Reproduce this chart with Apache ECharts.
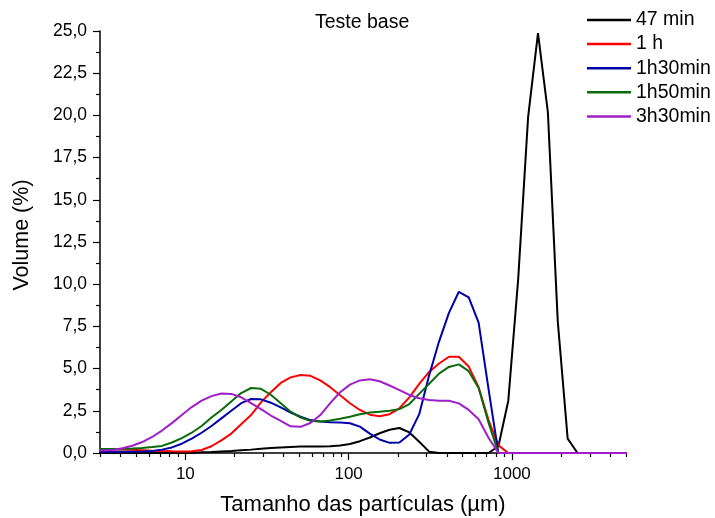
<!DOCTYPE html>
<html>
<head>
<meta charset="utf-8">
<script src="https://cdn.jsdelivr.net/npm/echarts@6/dist/echarts.min.js"></script>
<style>html,body{margin:0;padding:0;background:#fff}#c{width:715px;height:518px}</style>
</head>
<body>
<div id="c"></div>
<script>
// Particle size classes (µm)
const sizes = [2.71, 3.11, 3.58, 4.12, 4.73, 5.44, 6.26, 7.19, 8.27, 9.51,
  10.94, 12.58, 14.45, 16.62, 19.11, 21.97, 25.26, 29.04, 33.39, 38.39,
  44.14, 50.75, 58.34, 67.08, 77.12, 88.67, 101.9, 117.2, 134.8, 154.9,
  178.1, 204.8, 235.5, 270.7, 311.3, 357.9, 411.5, 473.2, 544.0, 625.5,
  719.2, 826.8, 950.6, 1093, 1257, 1445, 1661, 1910, 2196, 2525,
  2903, 3337, 3837, 4411, 5071];

const seriesNames = ['47 min', '1 h', '1h30min', '1h50min', '3h30min'];

const v47min = [0, 0, 0, 0, 0, 0, 0, 0, 0, 0.01,
  0.02, 0.04, 0.06, 0.09, 0.12, 0.16, 0.20, 0.25, 0.29, 0.33,
  0.36, 0.38, 0.39, 0.39, 0.40, 0.44, 0.53, 0.70, 0.92, 1.17,
  1.38, 1.48, 1.22, 0.67, 0.08, 0, 0, 0, 0, 0,
  0, 0.4, 3.1, 10.3, 19.9, 24.87, 20.2, 7.8, 0.85, 0,
  0, 0, 0, 0, 0];

const v1h = [0.22, 0.22, 0.21, 0.20, 0.19, 0.17, 0.14, 0.12, 0.10, 0.09,
  0.10, 0.18, 0.40, 0.75, 1.15, 1.70, 2.25, 3.00, 3.60, 4.15,
  4.48, 4.62, 4.57, 4.30, 3.90, 3.42, 2.95, 2.55, 2.27, 2.18,
  2.30, 2.65, 3.30, 4.10, 4.80, 5.30, 5.70, 5.70, 5.12, 3.90,
  1.95, 0.45, 0, 0, 0, 0, 0, 0, 0, 0,
  0, 0, 0, 0, 0];

const v1h30 = [0.08, 0.08, 0.08, 0.08, 0.08, 0.09, 0.12, 0.20, 0.33, 0.55,
  0.85, 1.20, 1.60, 2.05, 2.50, 2.95, 3.20, 3.18, 2.98, 2.70,
  2.40, 2.15, 1.95, 1.87, 1.82, 1.80, 1.76, 1.56, 1.15, 0.80,
  0.60, 0.62, 1.10, 2.30, 4.60, 6.60, 8.30, 9.55, 9.22, 7.72,
  3.80, 0, 0, 0, 0, 0, 0, 0, 0, 0,
  0, 0, 0, 0, 0];

const v1h50 = [0.24, 0.24, 0.24, 0.25, 0.27, 0.30, 0.35, 0.42, 0.62, 0.88,
  1.20, 1.60, 2.10, 2.55, 3.05, 3.55, 3.85, 3.80, 3.45, 2.95,
  2.45, 2.10, 1.90, 1.87, 1.92, 2.03, 2.15, 2.30, 2.40, 2.45,
  2.50, 2.60, 2.90, 3.50, 4.10, 4.70, 5.10, 5.25, 4.85, 3.85,
  1.80, 0, 0, 0, 0, 0, 0, 0, 0, 0,
  0, 0, 0, 0, 0];

const v3h30 = [0.15, 0.15, 0.18, 0.28, 0.43, 0.65, 0.95, 1.33, 1.77, 2.25,
  2.72, 3.10, 3.37, 3.52, 3.50, 3.30, 2.95, 2.60, 2.22, 1.90,
  1.58, 1.55, 1.78, 2.25, 2.95, 3.60, 4.05, 4.30, 4.37, 4.25,
  4.00, 3.73, 3.44, 3.24, 3.14, 3.10, 3.10, 2.94, 2.55, 2.00,
  0.90, 0, 0, 0, 0, 0, 0, 0, 0, 0,
  0, 0, 0, 0, 0];

const xMajorTicks = [10, 100, 1000];
const xMinorTicks = [3, 4, 5, 6, 7, 8, 9, 20, 30, 40, 50, 60, 70, 80, 90,
  200, 300, 400, 500, 600, 700, 800, 900, 2000, 3000, 4000, 5000];

const colors = ['#000000', '#FF0000', '#0000A8', '#0B6B0B', '#A01EC8'];
const allValues = [v47min, v1h, v1h30, v1h50, v3h30];

const FONT = 'Liberation Sans, Arial, sans-serif';
const xMin = 3, xMax = 5000;

const chart = echarts.init(document.getElementById('c'), null, {renderer: 'canvas'});

const series = seriesNames.map((name, k) => ({
  name: name,
  type: 'line',
  xAxisIndex: 0,
  yAxisIndex: 0,
  data: sizes.map((s, i) => [s, allValues[k][i]]),
  showSymbol: false,
  symbol: 'none',
  smooth: false,
  clip: true,
  lineStyle: {color: colors[k], width: 2},
  itemStyle: {color: colors[k]},
  emphasis: {disabled: true},
  animation: false
}));

const option = {
  animation: false,
  backgroundColor: '#ffffff',
  title: {
    text: 'Teste base',
    left: 310,
    top: 8,
    textStyle: {fontFamily: FONT, fontSize: 19.5, fontWeight: 'normal', color: '#000'}
  },
  legend: {
    orient: 'vertical',
    left: 582,
    top: 5,
    itemWidth: 44,
    itemHeight: 2.5,
    itemGap: 4.1,
    icon: 'rect',
    data: seriesNames,
    textStyle: {fontFamily: FONT, fontSize: 19.5, color: '#000'}
  },
  grid: {left: 100, right: 89, top: 31, bottom: 65, containLabel: false, outerBoundsMode: 'none'},
  xAxis: [
    {
      type: 'log',
      logBase: 10,
      min: xMin,
      max: xMax,
      name: 'Tamanho das partículas (µm)',
      nameLocation: 'middle',
      nameGap: 41,
      nameTextStyle: {fontFamily: FONT, fontSize: 22, color: '#000'},
      axisLine: {show: true, lineStyle: {color: '#000', width: 1.5}},
      axisTick: {show: false},
      minorTick: {show: false},
      splitLine: {show: false},
      axisLabel: {
        show: true, margin: 13, showMinLabel: false, showMaxLabel: false,
        fontFamily: FONT, fontSize: 17, color: '#000',
        formatter: v => (xMajorTicks.indexOf(Math.round(v)) >= 0 ? String(Math.round(v)) : '')
      }
    },
    {
      type: 'value',
      position: 'bottom',
      min: Math.log10(xMin),
      max: Math.log10(xMax),
      axisLine: {show: false},
      axisLabel: {show: false},
      splitLine: {show: false},
      axisTick: {show: true, length: 7, lineStyle: {color: '#000', width: 1.2},
        customValues: xMajorTicks.map(v => Math.log10(v))}
    },
    {
      type: 'value',
      position: 'bottom',
      min: Math.log10(xMin),
      max: Math.log10(xMax),
      axisLine: {show: false},
      axisLabel: {show: false},
      splitLine: {show: false},
      axisTick: {show: true, length: 4, lineStyle: {color: '#000', width: 1.2},
        customValues: xMinorTicks.map(v => Math.log10(v))}
    }
  ],
  yAxis: {
    type: 'value',
    min: 0,
    max: 25,
    interval: 2.5,
    name: 'Volume (%)',
    nameLocation: 'middle',
    nameGap: 67,
    nameTextStyle: {fontFamily: FONT, fontSize: 21.5, color: '#000', padding: [0, 0, 0, 14]},
    axisLine: {show: true, lineStyle: {color: '#000', width: 1.5}},
    axisTick: {show: true, length: 7, lineStyle: {color: '#000', width: 1.2}},
    minorTick: {show: true, splitNumber: 2, length: 4, lineStyle: {color: '#000', width: 1.2}},
    splitLine: {show: false},
    axisLabel: {
      margin: 13, fontFamily: FONT, fontSize: 17.5, color: '#000',
      formatter: v => v.toFixed(1).replace('.', ',')
    }
  },
  series: series
};

chart.setOption(option);
</script>
</body>
</html>
